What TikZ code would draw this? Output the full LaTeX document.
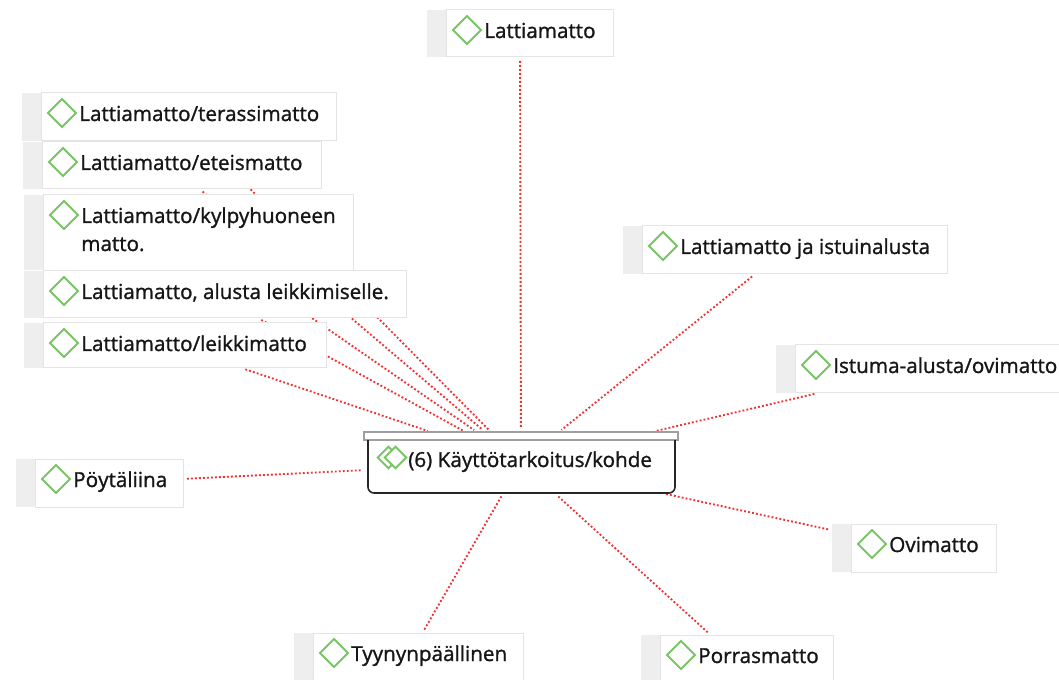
\documentclass[tikz,border=0pt]{standalone}
\usepackage{fontspec}
\setmainfont{Open Sans}[FakeBold=1.2]
\usetikzlibrary{fit,backgrounds}
\definecolor{linkred}{RGB}{240,50,50}
\definecolor{dgreen}{RGB}{122,196,104}
\definecolor{stripegray}{RGB}{238,238,238}
\definecolor{boxborder}{RGB}{228,228,228}
\definecolor{txtcol}{RGB}{22,22,22}
\tikzset{
  itembox/.style={fill=white, draw=none, inner sep=0pt, outer sep=0pt},
  stripebox/.style={fill=stripegray, draw=none},
  borderline/.style={draw=boxborder, line width=0.75pt},
  itemtext/.style={inner sep=0pt, anchor=base west, text=txtcol, font=\fontsize{15.5}{21}\selectfont},
  dia/.style={draw=dgreen, line width=1.4pt, line join=miter},
  link/.style={draw=linkred, line width=1.4pt, dash pattern=on 1.4pt off 1.6pt, shorten <=3pt, shorten >=2.5pt},
}
\newcommand\mitem[6]{%
  \node[itembox, fit={(#2,#3) (#4,#5)}] (#1) {};
  \fill[stripebox] (#2,#3) rectangle (#2+19,#5);
  \draw[borderline] (#2+19,#3) rectangle (#4,#5);
  \draw[dia] (#2+40,#3+6) -- (#2+54,#3+20) -- (#2+40,#3+34) -- (#2+26,#3+20) -- cycle;
  \node[itemtext] (#1t) at (#2+57,#3+28) {#6};
}
\begin{document}
\begin{tikzpicture}[x=0.75pt, y=-0.75pt]
\useasboundingbox (0,0) rectangle (1059,680);
\mitem{a}{427}{10}{613}{57}{Lattiamatto}
\mitem{b}{22}{93}{336}{141}{Lattiamatto/terassimatto}
\mitem{e}{23}{142}{321}{189}{Lattiamatto/eteismatto}
\mitem{k}{24}{195}{353}{270.5}{\vtop{\hbox{Lattiamatto/kylpyhuoneen}\hbox{matto.}}}
\mitem{l}{24}{271}{406}{318}{Lattiamatto, alusta leikkimiselle.}
\mitem{m}{24}{323}{326}{368}{Lattiamatto/leikkimatto}
\mitem{j}{623}{226}{947}{274}{Lattiamatto ja istuinalusta}
\mitem{i}{776}{345}{1066}{393}{Istuma-alusta/ovimatto}
\mitem{p}{16}{459}{183}{507}{Pöytäliina}
\mitem{o}{832}{524}{996}{572}{Ovimatto}
\mitem{t}{294}{633}{523}{681}{Tyynynpäällinen}
\mitem{r}{641}{635}{833}{683}{Porrasmatto}
% central node
\node[itembox, fill=none, fit={(364,432) (678,493)}] (core) {};
\draw[draw=gray!75, fill=white, line width=0.8pt] (364,432) rectangle (678,440);
\draw[draw=black!85, line width=1.2pt, rounded corners=4.5pt] (368,440) -- (368,493) -- (675,493) -- (675,440);
\draw[dia] (388.5,446.7) -- (399.3,457.5) -- (388.5,468.3) -- (377.7,457.5) -- cycle;
\draw[dia, fill=white] (395.5,446.7) -- (406.3,457.5) -- (395.5,468.3) -- (384.7,457.5) -- cycle;
\node[itemtext] (coret) at (408,467) {(6) Käyttötarkoitus/kohde};
\begin{scope}[on background layer]
  \foreach \n in {a,b,e,k,l,m,j,i,p,o,t,r} \draw[link] (\n) -- (core);
\end{scope}
\end{tikzpicture}
\end{document}
